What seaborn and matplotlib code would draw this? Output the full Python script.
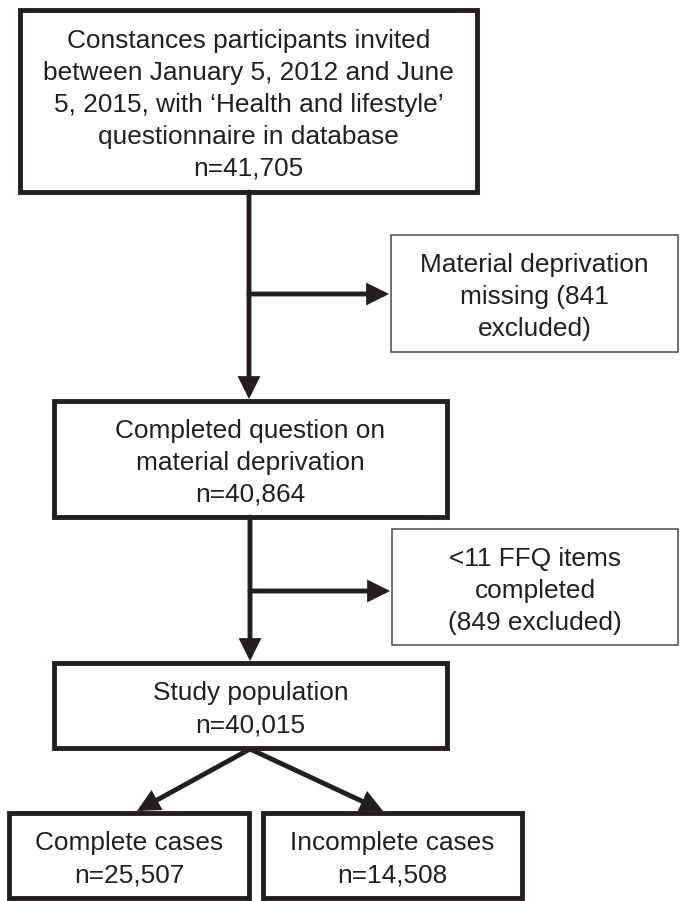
import matplotlib.pyplot as plt
import seaborn as sns
from matplotlib.patches import Rectangle

# flowchart content
stage_labels = [
    "Constances participants invited\nbetween January 5, 2012 and June\n5, 2015, with ‘Health and lifestyle’\nquestionnaire in database",
    "Completed question on\nmaterial deprivation",
    "Study population",
]
stage_n = [41705, 40864, 40015]

exclusion_labels = [
    "Material deprivation\nmissing ({:,}\nexcluded)",
    "<11 FFQ items\ncompleted\n({:,} excluded)",
]
excluded_n = [841, 849]

subgroup_labels = ["Complete cases", "Incomplete cases"]
subgroup_n = [25507, 14508]

sns.set_theme(style="white")
plt.rcParams["font.family"] = ["Liberation Sans", "DejaVu Sans"]

INK = "#231f20"
FS = 18.9          # pt
LINE_H = 32        # px between lines
EM = FS * 100 / 72

fig = plt.figure(figsize=(6.82, 9.01), dpi=100)
ax = fig.add_axes([0, 0, 1, 1])
ax.set_xlim(0, 682)
ax.set_ylim(901, 0)
ax.axis("off")


def draw_box(x0, y0, x1, y1, text, thick=True):
    rect = Rectangle((x0, y0), x1 - x0, y1 - y0, fill=False,
                     lw=3.5 if thick else 1.1,
                     edgecolor=INK if thick else "#4a4a4a",
                     joinstyle="miter")
    ax.add_patch(rect)
    lines = text.split("\n")
    cx = (x0 + x1) / 2
    cy = (y0 + y1) / 2 + 1.5
    for i, line in enumerate(lines):
        yc = cy + (i - (len(lines) - 1) / 2) * LINE_H
        ax.text(cx, yc + 0.358 * EM, line, ha="center", va="baseline",
                fontsize=FS, color=INK)


def arrow(start, tip):
    ax.annotate("", xy=tip, xytext=start,
                arrowprops=dict(arrowstyle="-|>,head_length=0.9,head_width=0.45",
                                mutation_scale=12, lw=3.5, color=INK,
                                shrinkA=0, shrinkB=0, joinstyle="miter"))


# main column
draw_box(20, 10, 477, 192, stage_labels[0] + f"\nn={stage_n[0]:,}")
draw_box(54, 401, 447, 517, stage_labels[1] + f"\nn={stage_n[1]:,}")
draw_box(54, 663, 447, 748, stage_labels[2] + f"\nn={stage_n[2]:,}")

# exclusions
draw_box(391, 235, 678, 352, exclusion_labels[0].format(excluded_n[0]), thick=False)
draw_box(392, 529, 678, 645, exclusion_labels[1].format(excluded_n[1]), thick=False)

# final split
draw_box(9, 813, 249, 898, f"{subgroup_labels[0]}\nn={subgroup_n[0]:,}")
draw_box(263, 813, 522, 898, f"{subgroup_labels[1]}\nn={subgroup_n[1]:,}")

# connectors
arrow((249, 192), (249, 399))
arrow((249, 294), (389, 294))
arrow((250, 517), (250, 661))
arrow((250, 591), (390, 591))
arrow((250, 749), (137, 811))
arrow((250, 749), (383, 811))

plt.savefig("out.png", dpi=100)
